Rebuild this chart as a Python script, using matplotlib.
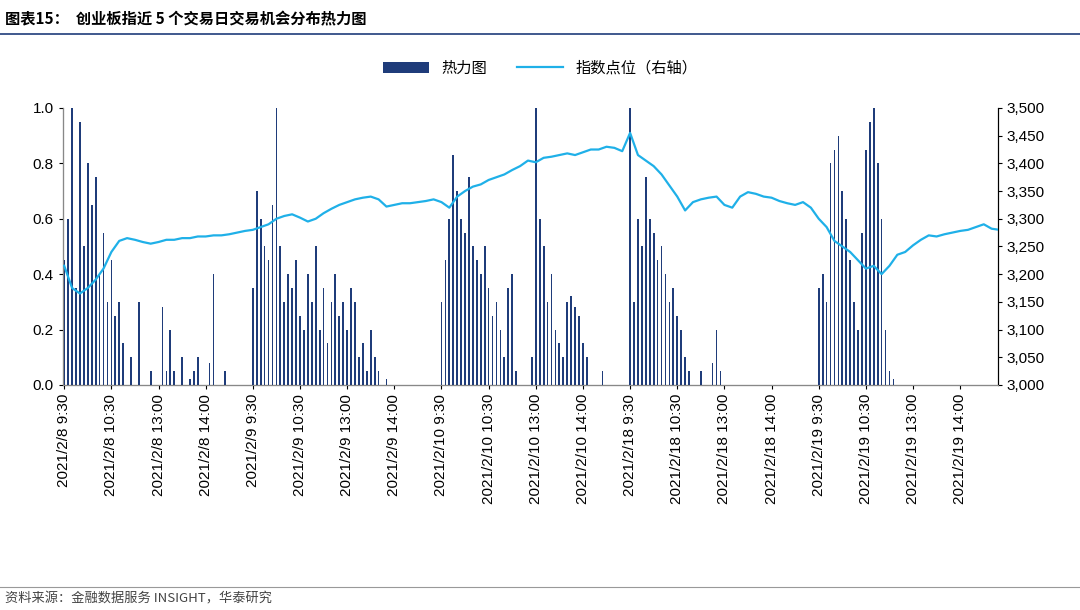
import numpy as np
import matplotlib.pyplot as plt
from matplotlib.ticker import FuncFormatter

plt.rcParams['font.family'] = ['Noto Sans CJK SC']

# ---------------- data ----------------
days = ['2021/2/8', '2021/2/9', '2021/2/10', '2021/2/18', '2021/2/19']
tick_times = ['9:30', '10:30', '13:00', '14:00']

# index close every 10 trading minutes, 24 per day
idx_d1 = [3215, 3175, 3165, 3175, 3190, 3210, 3240, 3260, 3265, 3262, 3258, 3255,
          3258, 3262, 3262, 3265, 3265, 3268, 3268, 3270, 3270, 3272, 3275, 3278]
idx_d2 = [3280, 3285, 3290, 3300, 3305, 3308, 3302, 3295, 3300, 3310, 3318, 3325,
          3330, 3335, 3338, 3340, 3335, 3322, 3325, 3328, 3328, 3330, 3332, 3335]
idx_d3 = [3330, 3320, 3340, 3350, 3358, 3362, 3370, 3375, 3380, 3388, 3395, 3405,
          3402, 3410, 3412, 3415, 3418, 3415, 3420, 3425, 3425, 3430, 3428, 3422]
idx_d4 = [3455, 3415, 3405, 3395, 3380, 3360, 3340, 3315, 3330, 3335, 3338, 3340,
          3325, 3320, 3340, 3348, 3345, 3340, 3338, 3332, 3328, 3325, 3330, 3320]
idx_d5 = [3300, 3285, 3260, 3250, 3240, 3225, 3210, 3215, 3200, 3215, 3235, 3240,
          3252, 3262, 3270, 3268, 3272, 3275, 3278, 3280, 3285, 3290, 3282, 3280]

# heat values every 5 trading minutes, 48 per day
heat_d1 = [0.45, 0.6, 1.0, 0.35, 0.95, 0.5, 0.8, 0.65, 0.75, 0.4, 0.55, 0.3, 0.45, 0.25, 0.3, 0.15,
           0, 0.1, 0, 0.3, 0, 0, 0.05, 0, 0, 0.28, 0.05, 0.2, 0.05, 0, 0.1, 0,
           0.02, 0.05, 0.1, 0, 0, 0.08, 0.4, 0, 0, 0.05, 0, 0, 0, 0, 0, 0]
heat_d2 = [0.35, 0.7, 0.6, 0.5, 0.45, 0.65, 1.0, 0.5, 0.3, 0.4, 0.35, 0.45, 0.25, 0.2, 0.4, 0.3,
           0.5, 0.2, 0.35, 0.15, 0.3, 0.4, 0.25, 0.3, 0.2, 0.35, 0.3, 0.1, 0.15, 0.05, 0.2, 0.1,
           0.05, 0, 0.02, 0, 0, 0, 0, 0, 0, 0, 0, 0, 0, 0, 0, 0]
heat_d3 = [0.3, 0.45, 0.6, 0.83, 0.7, 0.6, 0.55, 0.75, 0.5, 0.45, 0.4, 0.5, 0.35, 0.25, 0.3, 0.2,
           0.1, 0.35, 0.4, 0.05, 0, 0, 0, 0.1, 1.0, 0.6, 0.5, 0.3, 0.4, 0.2, 0.15, 0.1,
           0.3, 0.32, 0.28, 0.25, 0.15, 0.1, 0, 0, 0, 0.05, 0, 0, 0, 0, 0, 0]
heat_d4 = [1.0, 0.3, 0.6, 0.5, 0.75, 0.6, 0.55, 0.45, 0.5, 0.4, 0.3, 0.35, 0.25, 0.2, 0.1, 0.05,
           0, 0, 0.05, 0, 0, 0.08, 0.2, 0.05, 0, 0, 0, 0, 0, 0, 0, 0,
           0, 0, 0, 0, 0, 0, 0, 0, 0, 0, 0, 0, 0, 0, 0, 0]
heat_d5 = [0.35, 0.4, 0.3, 0.8, 0.85, 0.9, 0.7, 0.6, 0.45, 0.3, 0.2, 0.55, 0.85, 0.95, 1.0, 0.8,
           0.6, 0.2, 0.05, 0.02, 0, 0, 0, 0, 0, 0, 0, 0, 0, 0, 0, 0,
           0, 0, 0, 0, 0, 0, 0, 0, 0, 0, 0, 0, 0, 0, 0, 0]

idx = idx_d1 + idx_d2 + idx_d3 + idx_d4 + idx_d5
heat = heat_d1 + heat_d2 + heat_d3 + heat_d4 + heat_d5
x_idx = np.arange(len(idx)) * 10
x_heat = np.arange(len(heat)) * 5

# ---------------- plot ----------------
fig = plt.figure(figsize=(10.8, 6.1), dpi=100)
ax = fig.add_axes([0.058, 0.369, 0.866, 0.454])
ax2 = ax.twinx()

ax.bar(x_heat, heat, width=2.2, color='#1f3c7a', label='热力图', zorder=2)
ax2.plot(x_idx, idx, color='#1fb0e8', lw=1.6, label='指数点位（右轴）', zorder=3)

ax.set_xlim(-2, 1188)
ax.set_ylim(0, 1.0)
ax.set_yticks(np.arange(0, 1.01, 0.2))
ax.yaxis.set_major_formatter(FuncFormatter(lambda v, p: f'{v:.1f}'))
ax2.set_ylim(3000, 3500)
ax2.set_yticks(np.arange(3000, 3501, 50))
ax2.yaxis.set_major_formatter(FuncFormatter(lambda v, p: f'{int(v):,}'))

ticks, labels = [], []
for i, d in enumerate(days):
    for j, t in enumerate(tick_times):
        ticks.append(i * 240 + j * 60)
        labels.append(f'{d} {t}')
ax.set_xticks(ticks)
ax.set_xticklabels(labels, rotation=90, fontsize=11, fontfamily='Liberation Sans')
for a in (ax, ax2):
    a.tick_params(labelsize=11, length=3)
    for lab in a.get_yticklabels():
        lab.set_fontfamily('Liberation Sans')
    for s in ('top',):
        a.spines[s].set_visible(False)
ax2.spines['left'].set_color('#888888')
ax2.spines['bottom'].set_color('#888888')

h1, l1 = ax.get_legend_handles_labels()
h2, l2 = ax2.get_legend_handles_labels()
fig.legend(h1 + h2, l1 + l2, loc='center', bbox_to_anchor=(0.5, 0.888), ncol=2,
           frameon=False, fontsize=11, handlelength=3)

fig.text(0.005, 0.968, '图表15：  创业板指近 5 个交易日交易机会分布热力图', fontsize=11,
         fontweight='bold', ha='left', va='center')
fig.add_artist(plt.Line2D([0, 1], [0.945, 0.945], color='#1f3c7a', lw=1.2))
fig.add_artist(plt.Line2D([0, 1], [0.038, 0.038], color='#999999', lw=0.8))
fig.text(0.005, 0.018, '资料来源：金融数据服务 INSIGHT，华泰研究', fontsize=9.5,
         color='#444444', ha='left', va='center')

fig.savefig('out.png', dpi=100)
